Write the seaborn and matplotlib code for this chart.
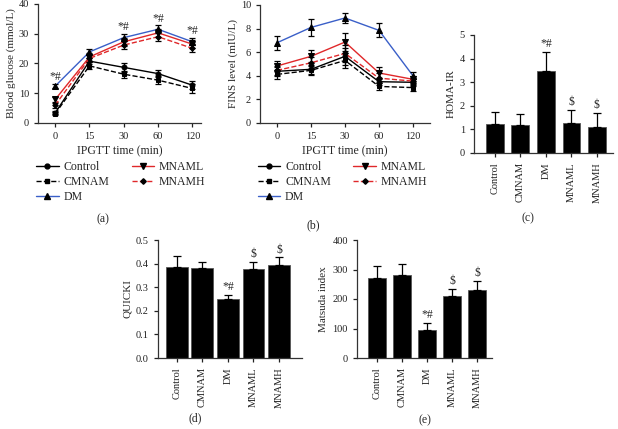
import numpy as np
import pandas as pd
import matplotlib
matplotlib.use("Agg")
import matplotlib.pyplot as plt
import seaborn as sns
from matplotlib.lines import Line2D

# ---- data ----
times = ["0", "15", "30", "60", "120"]
groups = ["Control", "CMNAM", "DM", "MNAML", "MNAMH"]

glu_control = [3.4, 20.8, 18.7, 16.6, 12.7]
glu_cmnam = [3.1, 19.2, 16.4, 14.4, 11.6]
glu_dm = [12.4, 23.9, 28.7, 31.5, 27.3]
glu_mnaml = [7.9, 22.2, 27.3, 30.3, 26.5]
glu_mnamh = [6.0, 21.7, 26.2, 29.0, 25.1]
glu_control_err = [0.5, 1.0, 1.5, 1.2, 1.3]
glu_cmnam_err = [0.5, 1.2, 1.2, 1.4, 1.5]
glu_dm_err = [0.8, 1.0, 1.2, 1.3, 1.2]
glu_mnaml_err = [0.8, 1.2, 1.3, 1.4, 1.3]
glu_mnamh_err = [0.8, 1.2, 1.2, 1.3, 1.4]
glu_marks = ["*#", "", "*#", "*#", "*#"]

fins_control = [4.38, 4.55, 5.65, 3.5, 3.45]
fins_cmnam = [4.12, 4.46, 5.3, 3.1, 3.0]
fins_dm = [6.8, 8.1, 8.9, 7.85, 4.0]
fins_mnaml = [4.83, 5.65, 6.86, 4.24, 3.7]
fins_mnamh = [4.46, 5.1, 5.9, 3.8, 3.55]
fins_control_err = [0.4, 0.4, 0.7, 0.3, 0.3]
fins_cmnam_err = [0.35, 0.35, 0.6, 0.3, 0.3]
fins_dm_err = [0.6, 0.7, 0.4, 0.6, 0.3]
fins_mnaml_err = [0.4, 0.5, 0.8, 0.5, 0.3]
fins_mnamh_err = [0.4, 0.5, 0.7, 0.4, 0.3]

homa = [1.24, 1.17, 3.46, 1.27, 1.10]
homa_err = [0.50, 0.47, 0.81, 0.57, 0.60]
quicki = [0.387, 0.382, 0.248, 0.378, 0.394]
quicki_err = [0.046, 0.024, 0.020, 0.028, 0.032]
matsuda = [270, 281, 96, 210, 230]
matsuda_err = [42, 37, 24, 23, 32]
bar_marks = ["", "", "*#", "$", "$"]

# ---- style ----
sns.set_theme(style="ticks")
plt.rcParams["font.family"] = ["Liberation Serif", "DejaVu Serif"]
plt.rcParams["axes.linewidth"] = 0.9
plt.rcParams["axes.edgecolor"] = "#333333"
plt.rcParams["xtick.major.width"] = 0.9
plt.rcParams["ytick.major.width"] = 0.9
plt.rcParams["xtick.major.size"] = 3
plt.rcParams["ytick.major.size"] = 3
plt.rcParams["xtick.labelsize"] = 7.5
plt.rcParams["ytick.labelsize"] = 7.5
plt.rcParams["xtick.color"] = "#222222"
plt.rcParams["ytick.color"] = "#222222"

BLUE = "#3a5fc8"
RED = "#e0282a"
styles = {
    "Control": dict(color="black", linestyle="-", marker="o", ms=3.5),
    "CMNAM": dict(color="black", linestyle="--", marker="s", ms=3.5),
    "DM": dict(color=BLUE, linestyle="-", marker="^", ms=3.8),
    "MNAML": dict(color=RED, linestyle="-", marker="v", ms=3.8),
    "MNAMH": dict(color=RED, linestyle="--", marker="D", ms=2.8),
}

W, H = 618, 429
fig = plt.figure(figsize=(W / 100, H / 100), dpi=100)


def box(x0, x1, ytop, ybot):
    return [x0 / W, (H - ybot) / H, (x1 - x0) / W, (ybot - ytop) / H]


def line_panel(ax, series, errs, marks, ylabel, ymax, ystep, xmax):
    pos = np.arange(len(times))
    for g in groups:
        st = styles[g]
        sns.lineplot(x=pos, y=series[g], ax=ax, color=st["color"],
                     linestyle=st["linestyle"], marker=st["marker"],
                     markersize=st["ms"], markerfacecolor="black",
                     markeredgecolor="black", linewidth=1.0, legend=False)
        ax.errorbar(pos, series[g], yerr=errs[g], fmt="none", ecolor="black",
                    elinewidth=0.9, capsize=2.5, capthick=0.9)
    if marks is not None:
        for i, m in enumerate(marks):
            if m:
                top = series["DM"][i] + errs["DM"][i]
                ax.text(i, top + 0.3, m, ha="center", va="bottom", fontsize=8.5)
    ax.set_xticks(pos)
    ax.set_xticklabels(times)
    ax.set_xlim(-0.5, xmax)
    ax.set_ylim(0, ymax)
    ax.set_yticks(np.arange(0, ymax + ystep / 2, ystep))
    ax.set_xlabel("IPGTT time (min)", fontsize=8.5, labelpad=3)
    ax.set_ylabel(ylabel, fontsize=8, labelpad=2)
    sns.despine(ax=ax)
    handles = [Line2D([], [], color=styles[g]["color"],
                      linestyle=styles[g]["linestyle"],
                      marker=styles[g]["marker"], markersize=styles[g]["ms"],
                      markerfacecolor="black", markeredgecolor="black",
                      linewidth=1.0) for g in groups]
    ax.legend(handles, groups, loc="upper left", bbox_to_anchor=(-0.04, -0.28),
              ncol=2, frameon=False, fontsize=8.5, handlelength=1.9,
              columnspacing=1.9, labelspacing=0.25, handletextpad=0.4,
              borderaxespad=0)


def bar_panel(ax, vals, errs, ylabel, ymax, yticks, xlim, width, fmt):
    sns.barplot(x=groups, y=vals, color="black", width=width, ax=ax,
                errorbar=None, edgecolor="#555555", linewidth=0.6,
                saturation=1)
    pos = np.arange(len(groups))
    ax.errorbar(pos, vals, yerr=[np.zeros(len(vals)), errs], fmt="none",
                ecolor="black", elinewidth=0.9, capsize=3, capthick=0.9)
    for i, m in enumerate(bar_marks):
        if m:
            ax.text(i, vals[i] + errs[i] + ymax * 0.015, m, ha="center",
                    va="bottom", fontsize=8.5)
    ax.set_xlim(*xlim)
    ax.set_ylim(0, ymax)
    ax.set_yticks(yticks)
    ax.set_yticklabels([fmt.format(t) for t in yticks])
    ax.set_xticks(pos)
    ax.set_xticklabels(groups, rotation=90)
    ax.set_xlabel("")
    ax.set_ylabel(ylabel, fontsize=8, labelpad=3)
    sns.despine(ax=ax)


# (a) blood glucose
ax_a = fig.add_axes(box(38, 201, 4, 123))
glu = dict(zip(groups, [glu_control, glu_cmnam, glu_dm, glu_mnaml, glu_mnamh]))
glu_e = dict(zip(groups, [glu_control_err, glu_cmnam_err, glu_dm_err,
                          glu_mnaml_err, glu_mnamh_err]))
line_panel(ax_a, glu, glu_e, glu_marks, "Blood glucose (mmol/L)", 40, 10, 4.25)

# (b) FINS
ax_b = fig.add_axes(box(260, 430, 5, 123))
fins = dict(zip(groups, [fins_control, fins_cmnam, fins_dm, fins_mnaml,
                         fins_mnamh]))
fins_e = dict(zip(groups, [fins_control_err, fins_cmnam_err, fins_dm_err,
                           fins_mnaml_err, fins_mnamh_err]))
line_panel(ax_b, fins, fins_e, None, "FINS level (mIU/L)", 10, 2, 4.5)

# (c) HOMA-IR
ax_c = fig.add_axes(box(474, 613, 35, 153))
bar_panel(ax_c, homa, homa_err, "HOMA-IR", 5, [0, 1, 2, 3, 4, 5],
          (-0.82, 4.63), 0.7, "{:g}")

# (d) QUICKI
ax_d = fig.add_axes(box(158, 302, 240, 358))
bar_panel(ax_d, quicki, quicki_err, "QUICKI", 0.5,
          [0.0, 0.1, 0.2, 0.3, 0.4, 0.5], (-0.73, 4.9), 0.85, "{:.1f}")

# (e) Matsuda index
ax_e = fig.add_axes(box(357, 492, 240, 358))
bar_panel(ax_e, matsuda, matsuda_err, "Matsuda index", 400,
          [0, 100, 200, 300, 400], (-0.8, 4.6), 0.73, "{:g}")

# panel labels
for lab, x, y in [("(a)", 103, 219), ("(b)", 313, 225), ("(c)", 528, 218),
                  ("(d)", 195, 418), ("(e)", 425, 420)]:
    fig.text(x / W, 1 - y / H, lab, ha="center", va="center", fontsize=8.5)

fig.savefig("out.png", dpi=100)
